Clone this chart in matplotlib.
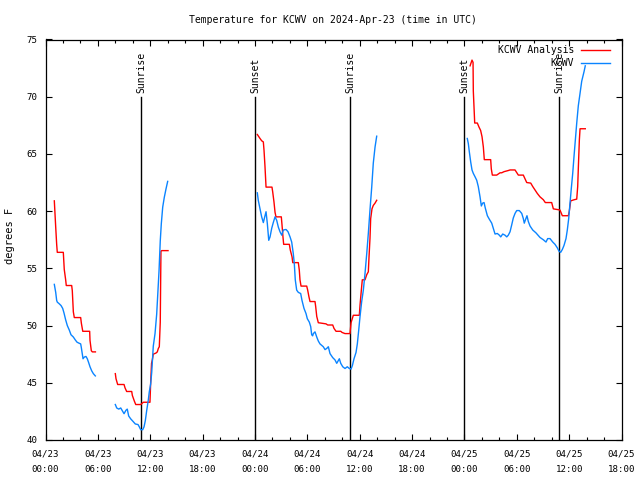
import numpy as np
import matplotlib
matplotlib.use("Agg")
import matplotlib.pyplot as plt
from matplotlib.ticker import MultipleLocator, FixedLocator

plt.rcParams['font.family'] = ['DejaVu Sans Mono']

# ---- data (hours since 2024-04-23 00:00 UTC, degrees F) ----
ana_h1 = [1.01,1.17,1.28,1.35,2.04,2.15,2.31,2.38,3.00,3.07,3.19,3.30,4.03,4.11,4.27,5.06,5.10,5.25,5.37,5.72]
ana_t1 = [60.9,58.6,57.1,56.4,56.4,54.9,54.0,53.5,53.5,53.05,51.2,50.7,50.7,50.2,49.5,49.5,48.7,47.8,47.7,47.7]
ana_h2 = [8.00,8.08,8.27,9.00,9.11,9.30,9.88,9.95,10.18,10.34,10.91,11.06,11.21,11.97,12.05,12.15,12.24,12.35,12.66,12.81,12.93,13.04,13.15,13.20,13.23,13.32,14.04]
ana_t2 = [45.8,45.35,44.85,44.85,44.56,44.24,44.24,43.9,43.4,43.1,43.1,43.2,43.3,43.3,45.0,46.7,47.0,47.5,47.6,47.7,48.0,48.15,50.3,54.3,56.5,56.55,56.55]
ana_h3 = [24.27,24.58,24.77,24.96,25.04,25.15,25.27,25.95,26.03,26.18,26.30,26.41,27.02,27.10,27.21,27.29,27.94,28.05,28.25,28.33,
          28.97,29.08,29.16,29.28,29.93,30.04,30.19,30.31,30.88,30.96,31.08,31.26,32.14,32.34,32.91,33.06,33.29,33.83,33.98,34.32,
          34.89,35.01,35.27,35.96,36.04,36.19,36.30,36.61,36.81,36.99,37.07,37.18,37.26,37.41,37.56,37.76,37.95]
ana_t3 = [66.7,66.35,66.15,66.05,65.3,63.9,62.1,62.1,61.7,60.8,59.9,59.5,59.5,58.8,57.75,57.1,57.1,56.6,56.0,55.5,
          55.5,54.85,54.0,53.45,53.45,53.1,52.5,52.1,52.1,51.65,50.8,50.25,50.15,50.05,50.05,49.75,49.5,49.5,49.4,49.3,
          49.3,50.25,50.9,50.9,51.8,53.1,54.0,54.0,54.45,54.7,56.0,57.6,59.35,60.2,60.5,60.7,60.95]
ana_h4 = [48.65,48.87,48.99,49.02,49.18,49.48,49.67,49.86,50.02,50.17,50.28,51.01,51.08,51.20,51.70,52.08,52.27,52.54,53.03,53.23,
          53.80,54.18,54.75,55.14,55.60,55.83,56.09,56.35,56.66,57.04,57.27,58.00,58.19,58.95,59.22,59.91,60.02,60.18,60.59,60.87,
          60.98,61.06,61.17,61.25,61.85]
ana_t4 = [72.7,73.2,73.0,70.5,67.7,67.7,67.35,67.05,66.5,65.6,64.5,64.5,63.7,63.15,63.15,63.35,63.35,63.45,63.55,63.6,
          63.6,63.15,63.15,62.5,62.45,62.15,61.85,61.55,61.25,61.0,60.75,60.75,60.2,60.1,59.6,59.6,60.0,60.9,61.0,61.05,
          62.15,63.9,66.2,67.2,67.2]

obs_h1 = [1.01,1.17,1.28,1.35,1.58,1.78,1.97,2.12,2.31,2.50,2.73,2.92,3.19,3.41,3.61,3.87,4.03,4.10,4.18,4.30,4.45,4.64,4.79,4.95,5.10,5.29,5.48,5.71]
obs_t1 = [53.6,52.9,52.2,52.05,51.9,51.75,51.5,51.1,50.5,50.0,49.6,49.2,49.0,48.75,48.55,48.45,48.4,48.1,47.7,47.1,47.25,47.3,47.1,46.75,46.4,46.05,45.8,45.6]
obs_h2 = [8.00,8.16,8.39,8.62,8.77,9.00,9.22,9.37,9.53,9.76,10.06,10.29,10.60,10.75,10.91,11.14,11.29,11.44,11.60,11.78,
          11.89,12.05,12.17,12.28,12.35,12.55,12.74,12.89,13.01,13.15,13.27,13.43,13.61,13.81,14.00]
obs_t2 = [43.1,42.8,42.7,42.8,42.6,42.3,42.6,42.7,42.1,41.85,41.6,41.4,41.35,41.15,40.9,40.9,41.15,41.7,42.6,43.5,
          44.2,44.9,45.9,47.3,48.2,49.3,51.0,53.1,54.8,57.4,58.9,60.35,61.2,61.95,62.6]
obs_h3 = [24.27,24.38,24.58,24.77,24.96,25.12,25.27,25.42,25.58,25.73,25.92,26.10,26.30,26.49,26.68,26.87,27.07,27.25,27.56,27.79,
          28.02,28.21,28.39,28.51,28.62,28.78,28.97,29.24,29.39,29.62,29.85,30.00,30.23,30.39,30.50,30.61,30.69,30.88,31.08,31.26,
          31.45,31.83,32.03,32.22,32.41,32.60,32.91,33.17,33.37,33.67,33.83,34.06,34.32,34.58,34.81,35.01,35.16,35.35,35.58,35.73,
          35.89,36.04,36.23,36.42,36.61,36.81,36.99,37.18,37.38,37.56,37.76,37.95]
obs_t3 = [61.6,60.95,60.2,59.5,59.0,59.5,59.95,58.9,57.45,57.75,58.5,59.0,59.5,59.2,58.6,58.2,57.9,58.35,58.4,58.2,
          57.75,57.3,56.3,55.4,54.0,53.1,52.9,52.8,52.2,51.5,51.05,50.6,50.3,49.9,49.2,49.1,49.3,49.45,49.0,48.65,
          48.4,48.15,47.9,48.0,48.15,47.55,47.2,47.0,46.7,47.1,46.7,46.4,46.25,46.4,46.25,46.2,46.5,47.1,47.65,48.4,
          49.6,50.8,52.1,53.1,54.55,56.3,58.05,60.1,62.1,64.2,65.6,66.55]
obs_h4 = [48.33,48.45,48.56,48.72,48.87,49.02,49.22,49.41,49.59,49.79,49.94,50.09,50.25,50.40,50.63,50.85,51.13,51.31,51.51,51.77,
          52.00,52.16,52.39,52.65,52.85,53.03,53.23,53.42,53.60,53.80,53.99,54.29,54.57,54.75,54.86,55.02,55.17,55.32,55.52,55.83,
          56.20,56.66,57.04,57.35,57.54,57.81,58.12,58.38,58.64,58.84,59.03,59.22,59.41,59.64,59.79,59.95,60.10,60.25,60.41,60.56,
          60.71,60.87,61.05,61.25,61.44,61.71,61.85]
obs_t4 = [66.35,65.9,65.2,64.3,63.6,63.3,63.0,62.7,62.15,61.25,60.45,60.7,60.75,60.25,59.6,59.3,58.95,58.5,58.0,58.05,
          57.9,57.75,58.0,57.9,57.75,57.9,58.2,58.8,59.4,59.8,60.05,60.05,59.8,59.35,58.95,59.3,59.6,59.1,58.7,58.35,
          58.1,57.7,57.5,57.3,57.6,57.6,57.3,57.1,56.8,56.5,56.4,56.65,57.0,57.6,58.35,59.35,60.7,62.0,63.3,64.8,
          66.2,67.7,69.2,70.3,71.35,72.2,72.7]

sun_events_h = [10.98, 24.04, 34.93, 47.99, 58.87]
sun_events_lbl = ["Sunrise", "Sunset", "Sunrise", "Sunset", "Sunrise"]
sun_line_top = 70

xtick_h = [0, 6, 12, 18, 24, 30, 36, 42, 48, 54, 60, 66]
xtick_lbl = ["04/23\n00:00", "04/23\n06:00", "04/23\n12:00", "04/23\n18:00",
             "04/24\n00:00", "04/24\n06:00", "04/24\n12:00", "04/24\n18:00",
             "04/25\n00:00", "04/25\n06:00", "04/25\n12:00", "04/25\n18:00"]

RED = '#ff0000'
BLUE = '#0a84ff'

fig = plt.figure(figsize=(6.4, 4.8), dpi=100)
ax = fig.add_axes([45.5/640, 40/480, 576/640, 400.5/480])

for h, t in [(ana_h1, ana_t1), (ana_h2, ana_t2), (ana_h3, ana_t3), (ana_h4, ana_t4)]:
    ax.plot(h, t, color=RED, lw=1.0, zorder=3)
for h, t in [(obs_h1, obs_t1), (obs_h2, obs_t2), (obs_h3, obs_t3), (obs_h4, obs_t4)]:
    ax.plot(h, t, color=BLUE, lw=1.0, zorder=3)

for h, lbl in zip(sun_events_h, sun_events_lbl):
    ax.plot([h, h], [40, sun_line_top], color='black', lw=1.0, zorder=2)
    ax.annotate(lbl, (h, sun_line_top), xytext=(0, 3), textcoords='offset points',
                rotation=90, ha='center', va='bottom', fontsize=7, color='black')

ax.set_xlim(0, 66)
ax.set_ylim(40, 75)
ax.xaxis.set_major_locator(FixedLocator(xtick_h))
ax.set_xticklabels(xtick_lbl, fontsize=6.6, linespacing=1.85)
ax.xaxis.set_minor_locator(MultipleLocator(2))
ax.yaxis.set_major_locator(MultipleLocator(5))
ax.tick_params(axis='both', which='major', direction='in', length=4, width=0.8,
               top=True, right=True)
ax.tick_params(axis='y', which='major', labelsize=6.6, pad=6)
ax.tick_params(axis='x', which='major', pad=7)
ax.tick_params(axis='x', which='minor', direction='in', length=2.2, width=0.8, top=True)
for s in ax.spines.values():
    s.set_linewidth(0.9)

# legend (right-aligned text, sample line to the right)
leg_items = [("KCWV Analysis", RED, 50), ("KCWV", BLUE, 63)]
for txt, col, ypx in leg_items:
    yf = 1 - ypx/480
    fig.text(574/640, yf, txt, ha='right', va='center', fontsize=7)
    fig.add_artist(plt.Line2D([581/640, 610/640], [yf, yf], color=col, lw=1.0,
                              transform=fig.transFigure))

fig.text(333/640, 1 - 20/480, "Temperature for KCWV on 2024-Apr-23 (time in UTC)",
         ha='center', va='center', fontsize=7)
fig.text(10/640, 1 - 236/480, "degrees F", rotation=90, ha='center', va='center', fontsize=7.5)

fig.savefig("out.png", dpi=100)
